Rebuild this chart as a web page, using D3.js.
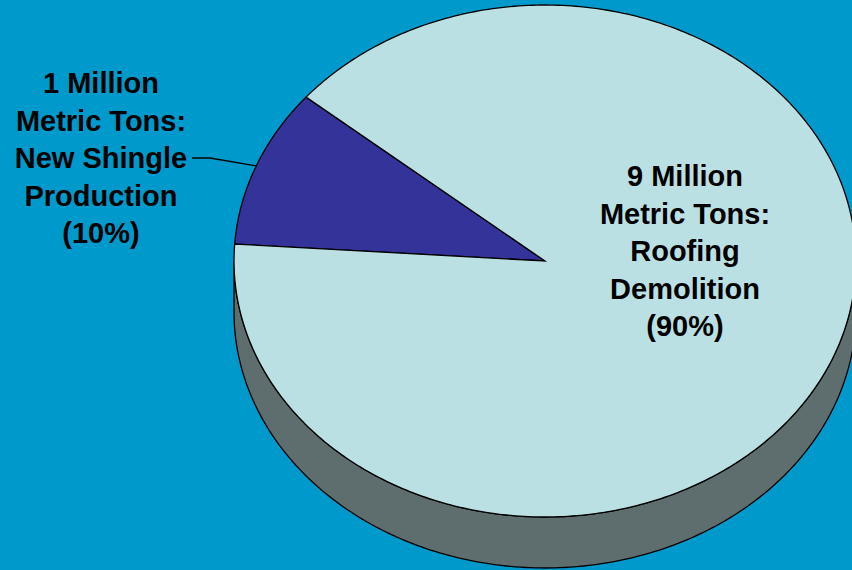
<!DOCTYPE html>
<html>
<head>
<meta charset="utf-8">
<script src="https://cdn.jsdelivr.net/npm/d3@7"></script>
<style>
html,body{margin:0;padding:0;background:#0099CC;overflow:hidden;}
svg{display:block;}
</style>
</head>
<body>
<svg id="chart" width="852" height="570"></svg>
<script>
// ---- data ----
const categories = ["New Shingle Production", "Roofing Demolition"];
const values = [1, 9]; // million metric tons
const labelLines = [
  ["1 Million", "Metric Tons:", "New Shingle", "Production", "(10%)"],
  ["9 Million", "Metric Tons:", "Roofing", "Demolition", "(90%)"]
];
const colors = ["#333399", "#BBE0E3"];

// ---- layout ----
const W = 852, H = 570;
const cx = 545, cy = 261, rx = 311, ry = 256, depth = 51;
const startDeg = 273.8;
const svg = d3.select("#chart");
svg.append("rect").attr("width", W).attr("height", H).attr("fill", "#0099CC");

const pie = d3.pie().sort(null).value(d => d)
  .startAngle(startDeg * Math.PI / 180)
  .endAngle(startDeg * Math.PI / 180 + 2 * Math.PI);
const arcs = pie(values);

// d3 angle (0 at top, clockwise) -> point on ellipse
function pt(a, dy = 0) {
  return [cx + rx * Math.sin(a), cy - ry * Math.cos(a) + dy];
}
function samples(a0, a1, n) {
  const out = [];
  for (let i = 0; i <= n; i++) out.push(a0 + (a1 - a0) * i / n);
  return out;
}
const line = d3.line();

// side walls (front half: d3 angles from 90deg to 270deg, mod 2pi)
arcs.forEach((d, i) => {
  const segs = [];
  // check intervals [PI/2, 3PI/2] + k*2PI
  for (let k = -1; k <= 2; k++) {
    const lo = Math.max(d.startAngle, Math.PI / 2 + k * 2 * Math.PI);
    const hi = Math.min(d.endAngle, 3 * Math.PI / 2 + k * 2 * Math.PI);
    if (hi > lo) segs.push([lo, hi]);
  }
  segs.forEach(([lo, hi]) => {
    const top = samples(lo, hi, 200).map(a => pt(a));
    const bot = samples(hi, lo, 200).map(a => pt(a, depth));
    svg.append("path")
      .attr("d", line(top.concat(bot)) + "Z")
      .attr("fill", "#5E6E6E")
      .attr("stroke", "#000").attr("stroke-width", 1.3)
      .attr("stroke-linejoin", "round");
  });
});

// top faces
arcs.forEach((d, i) => {
  const pts = [[cx, cy]].concat(samples(d.startAngle, d.endAngle, 400).map(a => pt(a)));
  svg.append("path")
    .attr("d", line(pts) + "Z")
    .attr("fill", colors[i])
    .attr("stroke", "#000").attr("stroke-width", 1.3)
    .attr("stroke-linejoin", "miter");
});

// leader line for the small slice
const mid0 = (arcs[0].startAngle + arcs[0].endAngle) / 2;
const edge = pt(mid0);
svg.append("path")
  .attr("d", line([[192, 158], [210, 158], edge]))
  .attr("fill", "none").attr("stroke", "#000").attr("stroke-width", 1.3);

// labels
const labelPos = [{x: 101, y: 93}, {x: 685, y: 186}];
const lh = 37.5;
labelLines.forEach((lines, i) => {
  const t = svg.append("text")
    .attr("text-anchor", "middle")
    .attr("font-family", "'Liberation Sans', Arial, sans-serif")
    .attr("font-weight", "bold")
    .attr("font-size", 29)
    .attr("fill", "#000");
  lines.forEach((s, j) => {
    t.append("tspan").attr("x", labelPos[i].x).attr("y", labelPos[i].y + j * lh).text(s);
  });
});
</script>
</body>
</html>
